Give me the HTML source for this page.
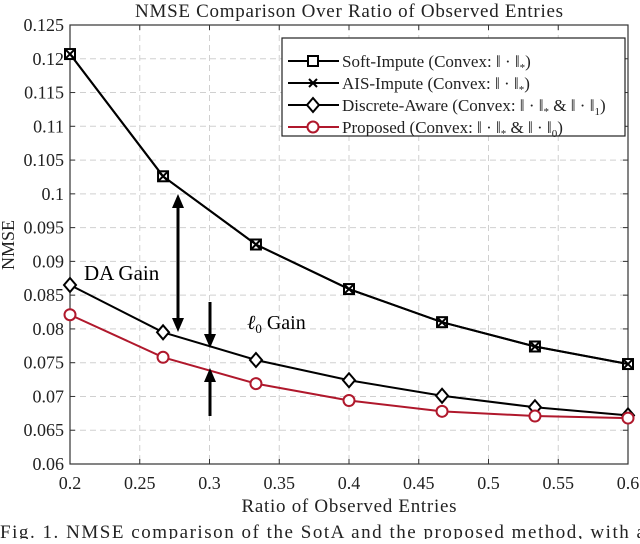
<!DOCTYPE html>
<html><head><meta charset="utf-8"><style>
body{margin:0;background:#fff;width:640px;height:539px;overflow:hidden}
svg{font-family:"Liberation Serif","DejaVu Serif",serif}
</style></head><body>
<svg id="chart" width="640" height="539"></svg>
<script>
const xValues=[0.2,0.2667,0.3333,0.4,0.4667,0.5333,0.6];
const softImpute=[0.1207,0.1026,0.0925,0.0859,0.0810,0.0774,0.0748];
const aisImpute=[0.1207,0.1026,0.0925,0.0859,0.0810,0.0774,0.0748];
const discreteAware=[0.0865,0.0795,0.0754,0.0724,0.0701,0.0684,0.0672];
const proposed=[0.0821,0.0758,0.0719,0.0694,0.0678,0.0671,0.0668];
const xTicks=[0.2,0.25,0.3,0.35,0.4,0.45,0.5,0.55,0.6];
const xTickLabels=["0.2","0.25","0.3","0.35","0.4","0.45","0.5","0.55","0.6"];
const yTicks=[0.06,0.065,0.07,0.075,0.08,0.085,0.09,0.095,0.1,0.105,0.11,0.115,0.12,0.125];
const yTickLabels=["0.06","0.065","0.07","0.075","0.08","0.085","0.09","0.095","0.1","0.105","0.11","0.115","0.12","0.125"];

const L=70,R=628,T=25,B=464;
const sx=v=>L+(v-0.2)/(0.6-0.2)*(R-L);
const sy=v=>B-(v-0.06)/(0.125-0.06)*(B-T);
const NS="http://www.w3.org/2000/svg";
const svg=document.getElementById('chart');
function mk(tag,attrs,parent){const e=document.createElementNS(NS,tag);for(const k in attrs)e.setAttribute(k,attrs[k]);(parent||svg).appendChild(e);return e;}

const grid=mk('g',{});


xTicks.forEach((t,i)=>{
  if(i>0&&i<xTicks.length-1)mk('line',{x1:sx(t),x2:sx(t),y1:T,y2:B,stroke:'#d0d0d0','stroke-dasharray':'6,4','stroke-width':1},grid);
  mk('line',{x1:sx(t),x2:sx(t),y1:B,y2:B-5,stroke:'#333'},grid);
  mk('line',{x1:sx(t),x2:sx(t),y1:T,y2:T+5,stroke:'#333'},grid);
  const tx=mk('text',{x:sx(t),y:B+25,'text-anchor':'middle','font-size':18,fill:'#222'});
  
  
  tx.textContent=xTickLabels[i];
});
yTicks.forEach((t,i)=>{
  if(i>0&&i<yTicks.length-1)mk('line',{x1:L,x2:R,y1:sy(t),y2:sy(t),stroke:'#d0d0d0','stroke-dasharray':'6,4','stroke-width':1},grid);
  mk('line',{x1:L,x2:L+5,y1:sy(t),y2:sy(t),stroke:'#333'},grid);
  mk('line',{x1:R,x2:R-5,y1:sy(t),y2:sy(t),stroke:'#333'},grid);
  const tx=mk('text',{x:L-6,y:sy(t)+6,'text-anchor':'end','font-size':18,fill:'#222'});
  
  
  tx.textContent=yTickLabels[i];
});
const frame=mk('rect',{x:L,y:T,width:R-L,height:B-T,fill:'none',stroke:'#333','stroke-width':1.2});



function series(vals,color,marker,name){
  const g=mk('g',{});
  
  
  mk('polyline',{points:vals.map((v,i)=>sx(xValues[i])+','+sy(v)).join(' '),fill:'none',stroke:color,'stroke-width':2},g);
  vals.forEach((v,i)=>drawMarker(g,sx(xValues[i]),sy(v),marker,color));
}
function drawMarker(g,x,y,m,c){
  if(m==='square')mk('rect',{x:x-5,y:y-5,width:10,height:10,fill:'#fff',stroke:c,'stroke-width':2},g);
  if(m==='x'){mk('path',{d:`M${x-4},${y-4}L${x+4},${y+4}M${x-4},${y+4}L${x+4},${y-4}`,stroke:c,'stroke-width':2},g);}
  if(m==='diamond')mk('path',{d:`M${x},${y-7}L${x+6},${y}L${x},${y+7}L${x-6},${y}Z`,fill:'#fff',stroke:c,'stroke-width':2},g);
  if(m==='circle')mk('circle',{cx:x,cy:y,r:5.5,fill:'#fff',stroke:c,'stroke-width':2},g);
}
series(discreteAware,'#000','diamond','series-discrete-aware');
series(proposed,'#b0182c','circle','series-proposed');
series(softImpute,'#000','square','series-soft-impute');
series(aisImpute,'#000','x','series-ais-impute');

let t=mk('text',{x:349,y:17,'text-anchor':'middle','font-size':19,fill:'#222','textLength':428});

t.textContent='NMSE Comparison Over Ratio of Observed Entries';
t=mk('text',{x:349,y:512,'text-anchor':'middle','font-size':19,fill:'#222','textLength':215});

t.textContent='Ratio of Observed Entries';
t=mk('text',{x:14,y:245,'text-anchor':'middle','font-size':18,fill:'#222',transform:'rotate(-90 14 245)'});

t.textContent='NMSE';
t=mk('text',{x:0,y:538,'font-size':19,fill:'#222','textLength':645});

t.textContent='Fig. 1.  NMSE comparison of the SotA and the proposed method, with a';

const ann=mk('g',{});


function arrowHead(x,y,dir){mk('path',{d:`M${x-6},${y-dir*14}L${x},${y}L${x+6},${y-dir*14}Z`,fill:'#000'},ann);}
mk('line',{x1:178,x2:178,y1:200,y2:326,stroke:'#000','stroke-width':3},ann);
arrowHead(178,194,-1);arrowHead(178,332,1);
mk('line',{x1:210,x2:210,y1:302,y2:340,stroke:'#000','stroke-width':3},ann);arrowHead(210,348,1);
mk('line',{x1:210,x2:210,y1:416,y2:376,stroke:'#000','stroke-width':3},ann);arrowHead(210,368,-1);
t=mk('text',{x:84,y:280,'font-size':21,fill:'#000'});

t.textContent='DA Gain';
t=mk('text',{x:247,y:329,'font-size':20,fill:'#000'});

t.innerHTML='<tspan font-style="italic">ℓ</tspan><tspan font-size="13" dy="4">0</tspan><tspan dy="-4"> Gain</tspan>';

const lg=mk('g',{});


mk('rect',{x:282,y:38,width:343,height:98,fill:'#fff',stroke:'#222','stroke-width':1.2},lg);
const markers=[['square','#000'],['x','#000'],['diamond','#000'],['circle','#b0182c']];
const texts=['Soft-Impute (Convex: ‖ · ‖<tspan font-size="11" dy="4">*</tspan><tspan dy="-4">)</tspan>',
'AIS-Impute (Convex: ‖ · ‖<tspan font-size="11" dy="4">*</tspan><tspan dy="-4">)</tspan>',
'Discrete-Aware (Convex: ‖ · ‖<tspan font-size="11" dy="4">*</tspan><tspan dy="-4"> &amp; ‖ · ‖</tspan><tspan font-size="11" dy="4">1</tspan><tspan dy="-4">)</tspan>',
'Proposed (Convex: ‖ · ‖<tspan font-size="11" dy="4">*</tspan><tspan dy="-4"> &amp; ‖ · ‖</tspan><tspan font-size="11" dy="4">0</tspan><tspan dy="-4">)</tspan>'];
markers.forEach((e,i)=>{
  const y=61+i*22;
  const row=mk('g',{},lg);
  
  
  mk('line',{x1:288,x2:339,y1:y,y2:y,stroke:e[1],'stroke-width':2},row);
  drawMarker(row,313,y,e[0],e[1]);
  const tx=mk('text',{x:342,y:y+6,'font-size':17,fill:'#222'},row);
  tx.innerHTML=texts[i];
});
</script>
</body></html>
